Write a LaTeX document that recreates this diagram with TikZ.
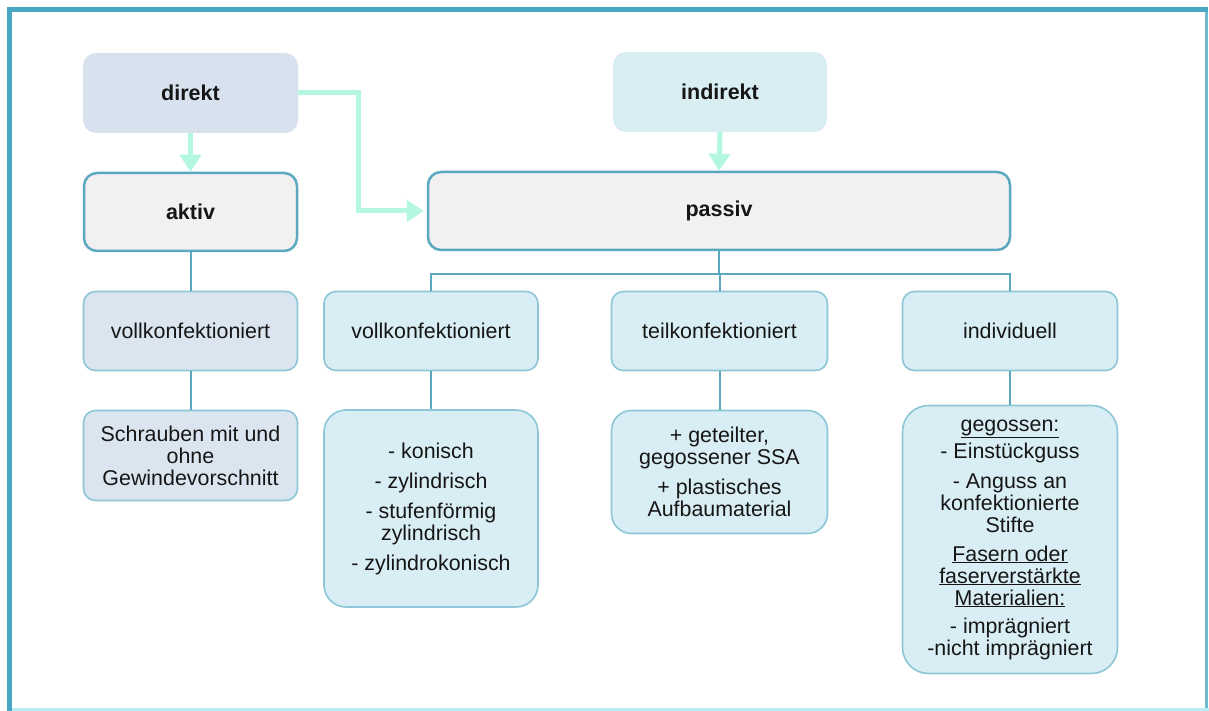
\documentclass[tikz,border=0pt]{standalone}
\usepackage{fontspec}
\setmainfont{Liberation Sans}
\usetikzlibrary{arrows.meta}
\definecolor{frameC}{HTML}{4AA7C3}
\definecolor{frameR}{HTML}{6DB9D0}
\definecolor{frameB}{HTML}{B8EDF5}
\definecolor{mint}{HTML}{B3F6E2}
\definecolor{topL}{HTML}{D8E2EE}
\definecolor{topR}{HTML}{D9EEF3}
\definecolor{grayF}{HTML}{F1F1F1}
\definecolor{strongB}{HTML}{5CA8C0}
\definecolor{lightB}{HTML}{8CC6D7}
\definecolor{leftF}{HTML}{DBE5F0}
\definecolor{cyanF}{HTML}{D9EEF4}
\definecolor{lineC}{HTML}{5BA9C1}
\definecolor{txt}{HTML}{161616}
\tikzset{
  basebox/.style={rectangle, align=center, inner sep=0pt, text=txt,
    font=\fontsize{21.4}{22}\selectfont},
  headbox/.style={basebox, rounded corners=13pt, draw=none,
    font=\fontsize{21.5}{23}\selectfont\bfseries},
  mainbox/.style={basebox, rounded corners=13pt, draw=strongB, fill=grayF,
    line width=2.5pt, font=\fontsize{21.5}{23}\selectfont\bfseries},
  subbox/.style={basebox, rounded corners=12pt, draw=lightB, fill=cyanF, line width=1.6pt},
  arr/.style={draw=mint, line width=5pt, -{Triangle[width=21pt,length=17pt]}},
  conn/.style={draw=lineC, line width=2pt}
}
\begin{document}
\begin{tikzpicture}[x=1pt,y=-1pt]
\useasboundingbox (0,0) rectangle (1209,711);
\fill[white] (0,0) rectangle (1209,711);
% frame
\draw[frameR, line width=3pt] (1206.5,10) -- (1206.5,711);
\draw[frameB, line width=2.5pt] (10,709.5) -- (1209,709.5);
\draw[frameC, line width=5.5pt] (6.5,9.5) -- (1208,9.5);
\draw[frameC, line width=5.5pt] (9.5,7) -- (9.5,711);

% top level
\node[headbox, fill=topL, minimum width=215pt, minimum height=80pt] (direkt) at (190.5,93) {direkt};
\node[headbox, fill=topR, minimum width=214pt, minimum height=80pt] (indirekt) at (720,92) {indirekt};
\node[mainbox, minimum width=213pt, minimum height=78pt] (aktiv) at (190.5,212) {aktiv};
\node[mainbox, minimum width=582pt, minimum height=78pt] (passiv) at (719,211) {passiv};

% second level
\node[subbox, fill=leftF, minimum width=214pt, minimum height=79pt] (V1) at (190.5,331) {vollkonfektioniert};
\node[subbox, minimum width=214pt, minimum height=79pt] (V2) at (431,331) {vollkonfektioniert};
\node[subbox, minimum width=216pt, minimum height=79pt] (T) at (719.5,331) {teilkonfektioniert};
\node[subbox, minimum width=215pt, minimum height=79pt] (I) at (1010,331) {individuell};

% third level
\node[subbox, fill=leftF, minimum width=214pt, minimum height=90pt] (S) at (190.5,455.5)
  {Schrauben mit und\\ohne\\Gewindevorschnitt};
\node[subbox, rounded corners=22pt, minimum width=214pt, minimum height=197pt] (K) at (431,508.5)
  {- konisch\\[8pt]- zylindrisch\\[8pt]- stufenförmig\\zylindrisch\\[8pt]- zylindrokonisch};
\node[subbox, rounded corners=20pt, minimum width=216pt, minimum height=123pt] (P) at (719.5,472)
  {+ geteilter,\\gegossener SSA\\[8pt]+ plastisches\\Aufbaumaterial};
\node[subbox, rounded corners=26pt, minimum width=215pt, minimum height=268pt] (G) at (1010,539.5)
  {\underline{gegossen:}\\[5pt]- Einstückguss\\[8pt]- Anguss an\\konfektionierte\\Stifte\\[7pt]\underline{Fasern oder}\\\underline{faserverstärkte}\\\underline{Materialien:}\\[6pt]- imprägniert\\-nicht imprägniert};

% arrows
\draw[arr] (direkt.south) -- (aktiv.north);
\draw[arr] (indirekt.south) -- (passiv.north);
\draw[arr, shorten >=3pt] (direkt.east) -- ++(60,0) |- (passiv.west);

% connectors
\coordinate (bus) at (passiv.south |- 0,274);
\draw[conn] (passiv.south) -- (bus);
\draw[conn] (bus) -| (V2.north);
\draw[conn] (bus) -| (T.north);
\draw[conn] (bus) -| (I.north);
\draw[conn] (aktiv.south) -- (V1.north);
\draw[conn] (V1.south) -- (S.north);
\draw[conn] (V2.south) -- (K.north);
\draw[conn] (T.south) -- (P.north);
\draw[conn] (I.south) -- (G.north);
\end{tikzpicture}
\end{document}
